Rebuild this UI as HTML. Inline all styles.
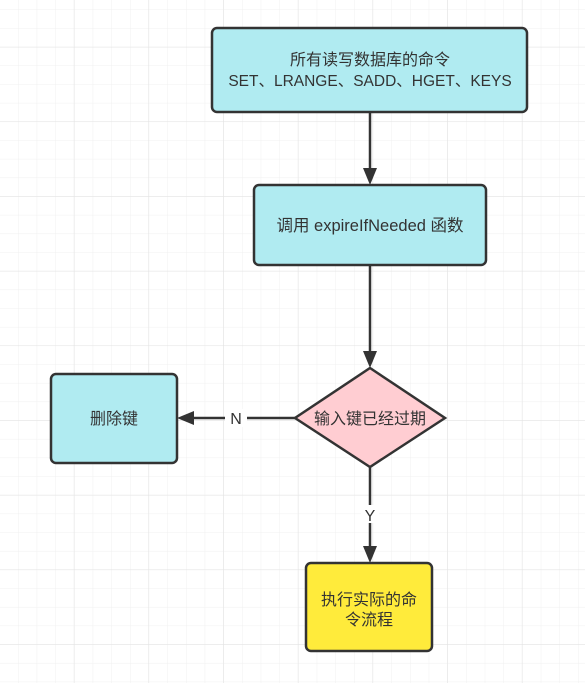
<!DOCTYPE html>
<html><head><meta charset="utf-8"><style>
html,body{margin:0;padding:0;background:#fff}
body{width:585px;height:683px;overflow:hidden;position:relative}
svg{position:absolute;left:0;top:0}
</style></head><body>
<svg width="585" height="683" xmlns="http://www.w3.org/2000/svg">
<defs>
<pattern id="g" x="-0.17" y="-8.67" width="18.67" height="18.67" patternUnits="userSpaceOnUse">
<path d="M18.67 0V18.67M0 18.67H18.67" stroke="#f0f0f0" stroke-width="1" fill="none"/>
</pattern>
<pattern id="G" x="-0.33" y="-27.33" width="74.67" height="74.67" patternUnits="userSpaceOnUse">
<path d="M74.67 0V74.67M0 74.67H74.67" stroke="#e2e2e2" stroke-width="1" fill="none"/>
</pattern>
</defs>
<rect width="585" height="683" fill="url(#g)"/>
<rect width="585" height="683" fill="url(#G)"/>
<g stroke="#333" stroke-width="2.5" fill="none">
<line x1="370" y1="112" x2="370" y2="172"/>
<line x1="370" y1="265" x2="370" y2="355"/>
<line x1="370" y1="467" x2="370" y2="550"/>
<line x1="295" y1="418" x2="190" y2="418"/>
</g>
<g fill="#333">
<polygon points="363,168 377,168 370,185"/>
<polygon points="363,351 377,351 370,368"/>
<polygon points="363,546 377,546 370,563"/>
<polygon points="194,411 194,425 177,418"/>
</g>
<rect x="225" y="409" width="22" height="18" fill="#fff"/>
<rect x="361" y="505" width="18" height="18" fill="#fff"/>
<g font-family="Liberation Sans, Noto Sans CJK SC, sans-serif" font-size="16" fill="#333" text-anchor="middle">
<text x="236" y="424">N</text>
<text x="370" y="521">Y</text>
</g>
<g stroke="#333" stroke-width="2.5">
<rect x="212" y="28" width="315" height="84" rx="5" fill="#b0ebf1"/>
<rect x="254" y="185" width="232" height="80" rx="5" fill="#b0ebf1"/>
<rect x="51" y="374" width="126" height="89" rx="5" fill="#b0ebf1"/>
<polygon points="370,368 445,418 370,467 295,418" fill="#ffcdd2"/>
<rect x="306" y="563" width="126" height="88" rx="5" fill="#ffeb3b"/>
</g>
<g font-family="Liberation Sans, Noto Sans CJK SC, sans-serif" font-size="16" fill="#333" text-anchor="middle">
<text x="370" y="65">所有读写数据库的命令</text>
<text x="370" y="86" font-size="15.5">SET、LRANGE、SADD、HGET、KEYS</text>
<text x="370" y="231" font-size="16.5">调用 expireIfNeeded 函数</text>
<text x="114" y="424">删除键</text>
<text x="370" y="424">输入键已经过期</text>
<text x="369" y="605">执行实际的命</text>
<text x="369" y="625">令流程</text>
</g>
</svg>
</body></html>
